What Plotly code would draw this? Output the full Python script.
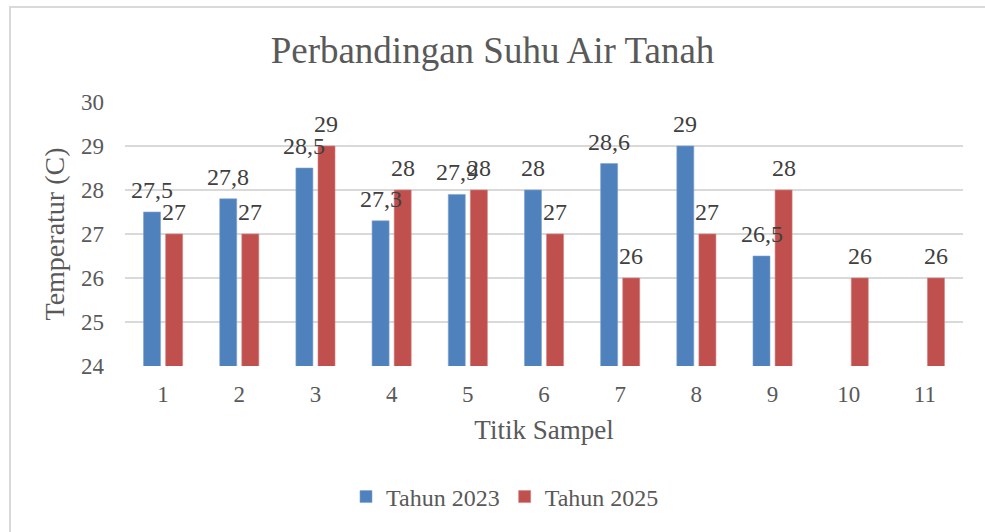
import plotly.graph_objects as go

categories = ["1", "2", "3", "4", "5", "6", "7", "8", "9", "10", "11"]
tahun_2023 = [27.5, 27.8, 28.5, 27.3, 27.9, 28, 28.6, 29, 26.5, None, None]
tahun_2025 = [27, 27, 29, 28, 28, 27, 26, 27, 28, 26, 26]
y_ticks = [24, 25, 26, 27, 28, 29, 30]

FONT = "Liberation Serif"
TXT = "#595959"
LBL = "#404040"

def fmt(v):
    return ("%g" % v).replace(".", ",")

fig = go.Figure()
fig.add_trace(go.Bar(
    x=categories, y=tahun_2023, name="Tahun 2023",
    marker=dict(color="#4F81BD", line=dict(color="#7FA3D0", width=0.6)),
))
fig.add_trace(go.Bar(
    x=categories, y=tahun_2025, name="Tahun 2025",
    marker=dict(color="#C0504D", line=dict(color="#D4807E", width=0.6)),
))

# data labels, positioned on the data through the axes (category index on x)
for series, dx in ((tahun_2023, -11), (tahun_2025, 11)):
    for i, v in enumerate(series):
        if v is None:
            continue
        fig.add_annotation(x=i, y=v, xref="x", yref="y", text=fmt(v), showarrow=False,
                           xshift=dx, yshift=22, yanchor="middle", xanchor="center",
                           font=dict(family=FONT, size=24, color=LBL))

L, R, T, B = 125, 22, 102, 166
W, H = 985, 532
pw = W - L - R
ph = H - T - B

fig.update_layout(
    width=W, height=H,
    margin=dict(l=L, r=R, t=T, b=B),
    paper_bgcolor="white", plot_bgcolor="white",
    barmode="group", bargap=0.42, bargroupgap=0.23,
    separators=",.",
    font=dict(family=FONT, color=TXT, size=23),
    title=dict(text="Perbandingan Suhu Air Tanah", x=0.5, xanchor="center",
               y=1 - 50 / H, yanchor="middle",
               font=dict(family=FONT, size=37, color=TXT)),
    xaxis=dict(type="category", range=[-0.5, len(categories) - 0.5],
               showgrid=False, showline=False, ticks="",
               tickfont=dict(family=FONT, size=23, color=TXT), ticklabelstandoff=12,
               title=dict(text="Titik Sampel", font=dict(family=FONT, size=27, color=TXT), standoff=14)),
    yaxis=dict(range=[24, 30], tickvals=y_ticks, showgrid=True, gridcolor="#D9D9D9", gridwidth=1.5,
               zeroline=False, showline=False, ticks="",
               tickfont=dict(family=FONT, size=23, color=TXT), ticklabelstandoff=20,
               title=dict(text="Temperatur (C)", font=dict(family=FONT, size=28, color=TXT), standoff=8)),
    legend=dict(orientation="h", x=(505 - L) / pw, xanchor="center", y=-(497 - (T + ph)) / ph, yanchor="middle",
                font=dict(family=FONT, size=24, color=TXT), itemwidth=30, traceorder="normal"),
    showlegend=True,
)

# chart area border (light gray frame)
fig.add_shape(type="rect", xref="paper", yref="paper",
              x0=(10 - L) / pw, x1=(1100 - L) / pw,
              y0=(T + ph - 700) / ph, y1=(T + ph - 7) / ph,
              line=dict(color="#D9D9D9", width=2), fillcolor="rgba(0,0,0,0)", layer="below")

fig.write_html("out.html", config={"displayModeBar": False},
               post_script="document.body.style.margin='0';document.body.style.overflow='hidden';")
